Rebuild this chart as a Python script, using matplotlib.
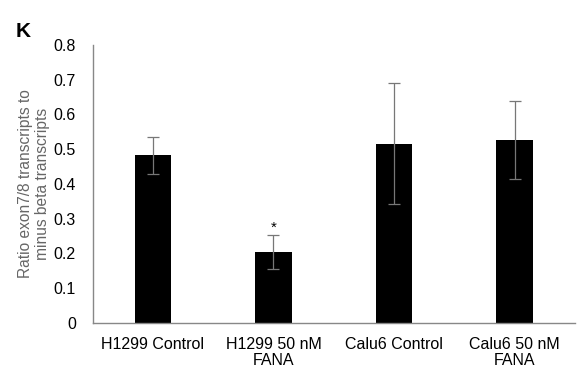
import numpy as np
import matplotlib.pyplot as plt

plt.rcParams['font.family'] = ['Liberation Sans', 'DejaVu Sans']

categories = ["H1299 Control", "H1299 50 nM\nFANA", "Calu6 Control", "Calu6 50 nM\nFANA"]
ratios = [0.482, 0.203, 0.515, 0.526]
errors = [0.053, 0.049, 0.174, 0.113]
star_y = 0.272

fig = plt.figure(figsize=(5.86, 3.68), dpi=100)
ax = fig.add_axes([0.158, 0.123, 0.823, 0.755])

x = np.arange(len(categories)) + 0.5
ax.bar(x, ratios, width=0.30, color="black", zorder=2)
ax.errorbar(x, ratios, yerr=errors, fmt="none", ecolor="#777777",
            elinewidth=0.9, capsize=4, capthick=0.9, zorder=3)
ax.text(x[1], star_y, "*", ha="center", va="center", fontsize=11, color="black")

ax.set_xlim(0, 4)
ax.set_ylim(0, 0.8)
ax.set_yticks(np.arange(0, 0.81, 0.1))
ax.set_yticklabels(["0"] + ["%.1f" % v for v in np.arange(0.1, 0.81, 0.1)])
ax.set_xticks(x)
ax.set_xticklabels(categories, linespacing=1.1)
ax.tick_params(axis="both", length=0, labelsize=11.5, pad=10)
ax.tick_params(axis="y", pad=12)

for side in ["top", "right"]:
    ax.spines[side].set_visible(False)
for side in ["left", "bottom"]:
    ax.spines[side].set_color("#888888")
    ax.spines[side].set_linewidth(1.0)

ax.set_ylabel("Ratio exon7/8 transcripts to\nminus beta transcripts",
              fontsize=11.2, color="#666666", linespacing=1.1)
ax.yaxis.set_label_coords(-0.089, 0.5)

fig.text(0.027, 0.900, "K", fontsize=15, fontweight="bold", va="baseline")

fig.savefig("out.png", dpi=100)
